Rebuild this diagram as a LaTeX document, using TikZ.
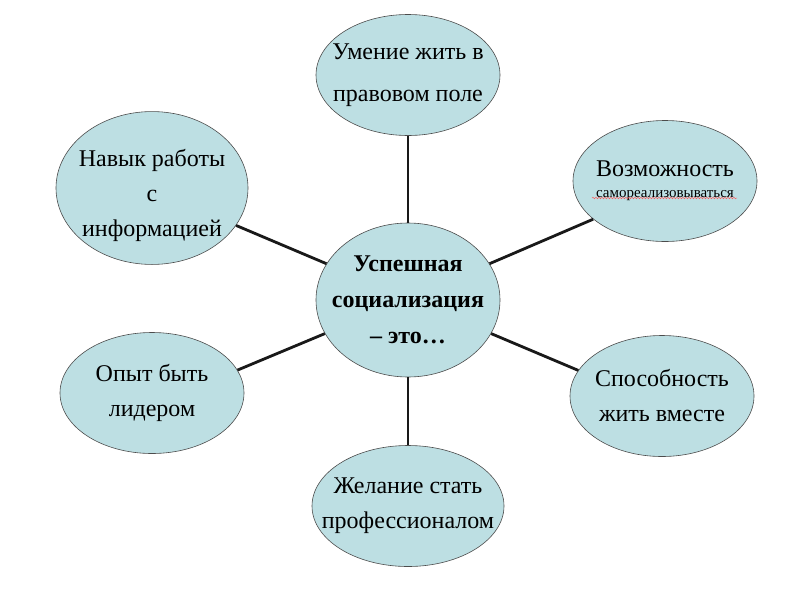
\documentclass[tikz,border=0pt]{standalone}
\usepackage{fontspec}
\setmainfont{Liberation Serif}
\usetikzlibrary{shapes.geometric,decorations.pathmorphing}
\definecolor{bubble}{HTML}{BDDFE3}
\tikzset{
  bub/.style={draw=black!70, semithick, ellipse, fill=bubble, align=center, inner xsep=-22pt, inner ysep=0pt, font=\fontsize{24}{35}\selectfont, minimum width=184pt, minimum height=121pt},
  hub/.style={bub, font=\fontsize{24}{36}\selectfont\bfseries, minimum width=184pt, minimum height=154pt},
  spoke/.style={line width=2.8pt, black!90},
}
\begin{document}
\begin{tikzpicture}[x=1pt,y=-1pt]
\useasboundingbox (0,0) rectangle (800,600);
\node[hub] (c) at (408,300) {Успешная\\социализация\\– это…};
\node[bub, font=\fontsize{24}{42}\selectfont] (top) at (408,75) {Умение жить в\\правовом поле};
\node[bub] (ur) at (665,181) {Возможность\\[-14pt]{\fontsize{15}{20}\selectfont самореализовываться}};
\node[bub, minimum width=192pt] (ul) at (152,188) {\rule{0pt}{33pt}Навык работы\\с\\информацией};
\node[bub] (ll) at (152,393) {Опыт быть\\лидером};
\node[bub] (lr) at (662,396) {Способность\\жить вместе};
\node[bub, minimum width=192pt] (bot) at (408,506) {Желание стать\\профессионалом};
\coordinate (wl) at (592,198);
\coordinate (wr) at (737,198);
\draw[red!70, thin, decorate, decoration={snake, amplitude=0.8pt, segment length=3pt}] (wl) -- (wr);
\draw[spoke] (c.north) -- (top.south);
\draw[spoke] (c.south) -- (bot.north);
\draw[spoke] (c.156) -- (ul.336);
\draw[spoke] (c.24) -- (ur.208);
\draw[spoke] (c.202) -- (ll.15);
\draw[spoke] (c.338) -- (lr.163);
\end{tikzpicture}
\end{document}
